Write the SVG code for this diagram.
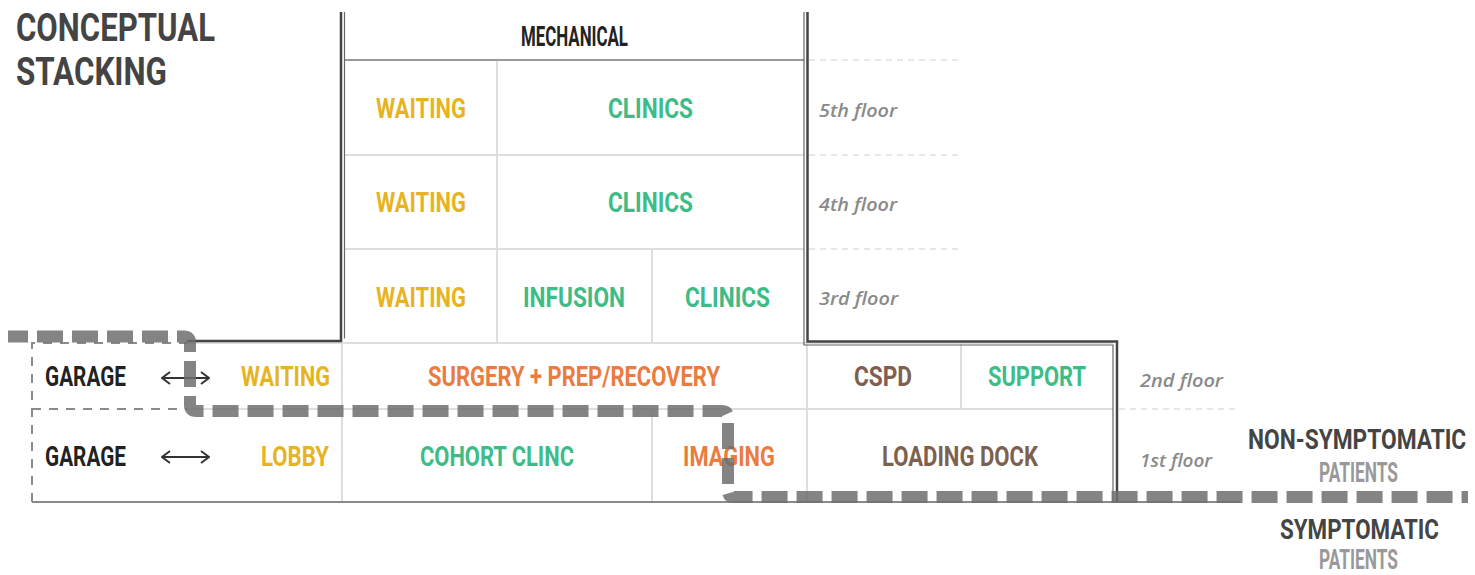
<svg xmlns="http://www.w3.org/2000/svg" width="1475" height="575" viewBox="0 0 1475 575">
<defs>
<style>
.lbl{font-family:Roboto,"Liberation Sans",sans-serif;font-weight:700;font-size:27px;}
.ttl{font-family:Roboto,"Liberation Sans",sans-serif;font-weight:700;font-size:39px;fill:#444;}
.flr{font-family:"Open Sans","DejaVu Sans",sans-serif;font-style:italic;font-weight:600;font-size:18px;fill:#8a8a8a;}
.y{fill:#E6B422;}.g{fill:#3DBC87;}.o{fill:#EA7C3F;}.b{fill:#7E6050;}.k{fill:#222;}.d{fill:#444;}.p{fill:#999;}
.grid{stroke:#dedede;stroke-width:2;fill:none;}
.ext{stroke:#d0d0d0;stroke-width:1.2;stroke-dasharray:6 5;fill:none;}
.gar{stroke:#8a8a8a;stroke-width:2;stroke-dasharray:9 8;fill:none;}
.outer{stroke:#444;stroke-width:2.5;fill:none;}
.inner{stroke:#666;stroke-width:1.2;fill:none;}
</style>
<marker id="chev" viewBox="0 0 10 14" refX="9" refY="7" markerWidth="10" markerHeight="14" markerUnits="userSpaceOnUse" orient="auto-start-reverse">
<path d="M1,1 L9,7 L1,13" fill="none" stroke="#333" stroke-width="2"/>
</marker>
</defs>
<rect width="1475" height="575" fill="#fff"/>

<g id="title">
<text class="ttl" x="16" y="41" textLength="199" lengthAdjust="spacingAndGlyphs">CONCEPTUAL</text>
<text class="ttl" x="16" y="85" textLength="151" lengthAdjust="spacingAndGlyphs">STACKING</text>
</g>

<g id="grid">
<line class="grid" x1="497" y1="60" x2="497" y2="342"/>
<line class="grid" x1="652" y1="249" x2="652" y2="342"/>
<line class="grid" x1="344" y1="155" x2="804" y2="155"/>
<line class="grid" x1="344" y1="249" x2="804" y2="249"/>
<line class="grid" x1="187" y1="343" x2="1113" y2="343"/>
<line class="grid" x1="187" y1="409" x2="1113" y2="409"/>
<line class="grid" x1="342" y1="343" x2="342" y2="502"/>
<line class="grid" x1="807" y1="343" x2="807" y2="502"/>
<line class="grid" x1="961" y1="343" x2="961" y2="409"/>
<line class="grid" x1="652" y1="409" x2="652" y2="502"/>
<line x1="344" y1="60" x2="804" y2="60" stroke="#999" stroke-width="2"/>
<line class="ext" x1="809" y1="60" x2="960" y2="60"/>
<line class="ext" x1="809" y1="155" x2="960" y2="155"/>
<line class="ext" x1="809" y1="249" x2="960" y2="249"/>
<line class="ext" x1="1119" y1="409" x2="1240" y2="409"/>
<line x1="32" y1="502" x2="1240" y2="502" stroke="#8a8a8a" stroke-width="2"/>
<path class="gar" d="M32,502 V343 H187"/>
<line class="gar" x1="32" y1="409" x2="187" y2="409"/>
</g>

<g id="building">
<path class="outer" d="M341,12 V341 H187"/>
<path class="inner" d="M344.5,12 V338.5"/>
<path class="outer" d="M807.5,12 V341.5 H1117 V502"/>
<path class="inner" d="M804,12 V345 H1113 V502"/>
</g>

<g id="mechanical"><text class="lbl k" x="521" y="46" font-size="25" textLength="107" lengthAdjust="spacingAndGlyphs">MECHANICAL</text></g>

<g id="floor5">
<text class="lbl y" x="376" y="118" textLength="90" lengthAdjust="spacingAndGlyphs">WAITING</text>
<text class="lbl g" x="608" y="118" textLength="85" lengthAdjust="spacingAndGlyphs">CLINICS</text>
<text class="flr" x="819" y="117" textLength="78" lengthAdjust="spacingAndGlyphs">5th floor</text>
</g>
<g id="floor4">
<text class="lbl y" x="376" y="212" textLength="90" lengthAdjust="spacingAndGlyphs">WAITING</text>
<text class="lbl g" x="608" y="212" textLength="85" lengthAdjust="spacingAndGlyphs">CLINICS</text>
<text class="flr" x="819" y="211" textLength="78" lengthAdjust="spacingAndGlyphs">4th floor</text>
</g>
<g id="floor3">
<text class="lbl y" x="376" y="307" textLength="90" lengthAdjust="spacingAndGlyphs">WAITING</text>
<text class="lbl g" x="523" y="307" textLength="102" lengthAdjust="spacingAndGlyphs">INFUSION</text>
<text class="lbl g" x="685" y="307" textLength="85" lengthAdjust="spacingAndGlyphs">CLINICS</text>
<text class="flr" x="819" y="305" textLength="79" lengthAdjust="spacingAndGlyphs">3rd floor</text>
</g>
<g id="floor2">
<text class="lbl k" x="45" y="386" textLength="81" lengthAdjust="spacingAndGlyphs">GARAGE</text>
<line x1="162" y1="378" x2="209" y2="378" stroke="#333" stroke-width="2" marker-start="url(#chev)" marker-end="url(#chev)"/>
<text class="lbl y" x="241" y="386" textLength="89" lengthAdjust="spacingAndGlyphs">WAITING</text>
<text class="lbl o" x="428" y="386" textLength="292" lengthAdjust="spacingAndGlyphs">SURGERY + PREP/RECOVERY</text>
<text class="lbl b" x="854" y="386" textLength="58" lengthAdjust="spacingAndGlyphs">CSPD</text>
<text class="lbl g" x="988" y="386" textLength="98" lengthAdjust="spacingAndGlyphs">SUPPORT</text>
<text class="flr" x="1140" y="387" textLength="83" lengthAdjust="spacingAndGlyphs">2nd floor</text>
</g>
<g id="floor1">
<text class="lbl k" x="45" y="466" textLength="81" lengthAdjust="spacingAndGlyphs">GARAGE</text>
<line x1="162" y1="457" x2="209" y2="457" stroke="#333" stroke-width="2" marker-start="url(#chev)" marker-end="url(#chev)"/>
<text class="lbl y" x="261" y="466" textLength="68" lengthAdjust="spacingAndGlyphs">LOBBY</text>
<text class="lbl g" x="420" y="466" textLength="154" lengthAdjust="spacingAndGlyphs">COHORT CLINC</text>
<text class="lbl o" x="683" y="466" textLength="92" lengthAdjust="spacingAndGlyphs">IMAGING</text>
<text class="lbl b" x="882" y="466" textLength="156" lengthAdjust="spacingAndGlyphs">LOADING DOCK</text>
<text class="flr" x="1140" y="467" textLength="72" lengthAdjust="spacingAndGlyphs">1st floor</text>
</g>

<g id="connectors">
<path d="M8,336.5 H184 Q190,336.5 190,342.5 V405 Q190,411 196,411 H722 Q728,411 728,417 V491 Q728,497 734,497 H1468" fill="none" stroke="#6e6e6e" stroke-opacity="0.85" stroke-width="12" stroke-dasharray="26 9" stroke-dashoffset="6"/>
</g>

<g id="legend">
<text class="lbl d" transform="translate(1248,449) scale(0.88,1)" x="0" y="0" textLength="248" lengthAdjust="spacingAndGlyphs">NON-SYMPTOMATIC</text>
<text class="lbl p" x="1319" y="482" font-size="25" textLength="79" lengthAdjust="spacingAndGlyphs">PATIENTS</text>
<text class="lbl d" x="1280" y="539" textLength="159" lengthAdjust="spacingAndGlyphs">SYMPTOMATIC</text>
<text class="lbl p" x="1319" y="569" font-size="22" textLength="79" lengthAdjust="spacingAndGlyphs">PATIENTS</text>
</g>
</svg>
